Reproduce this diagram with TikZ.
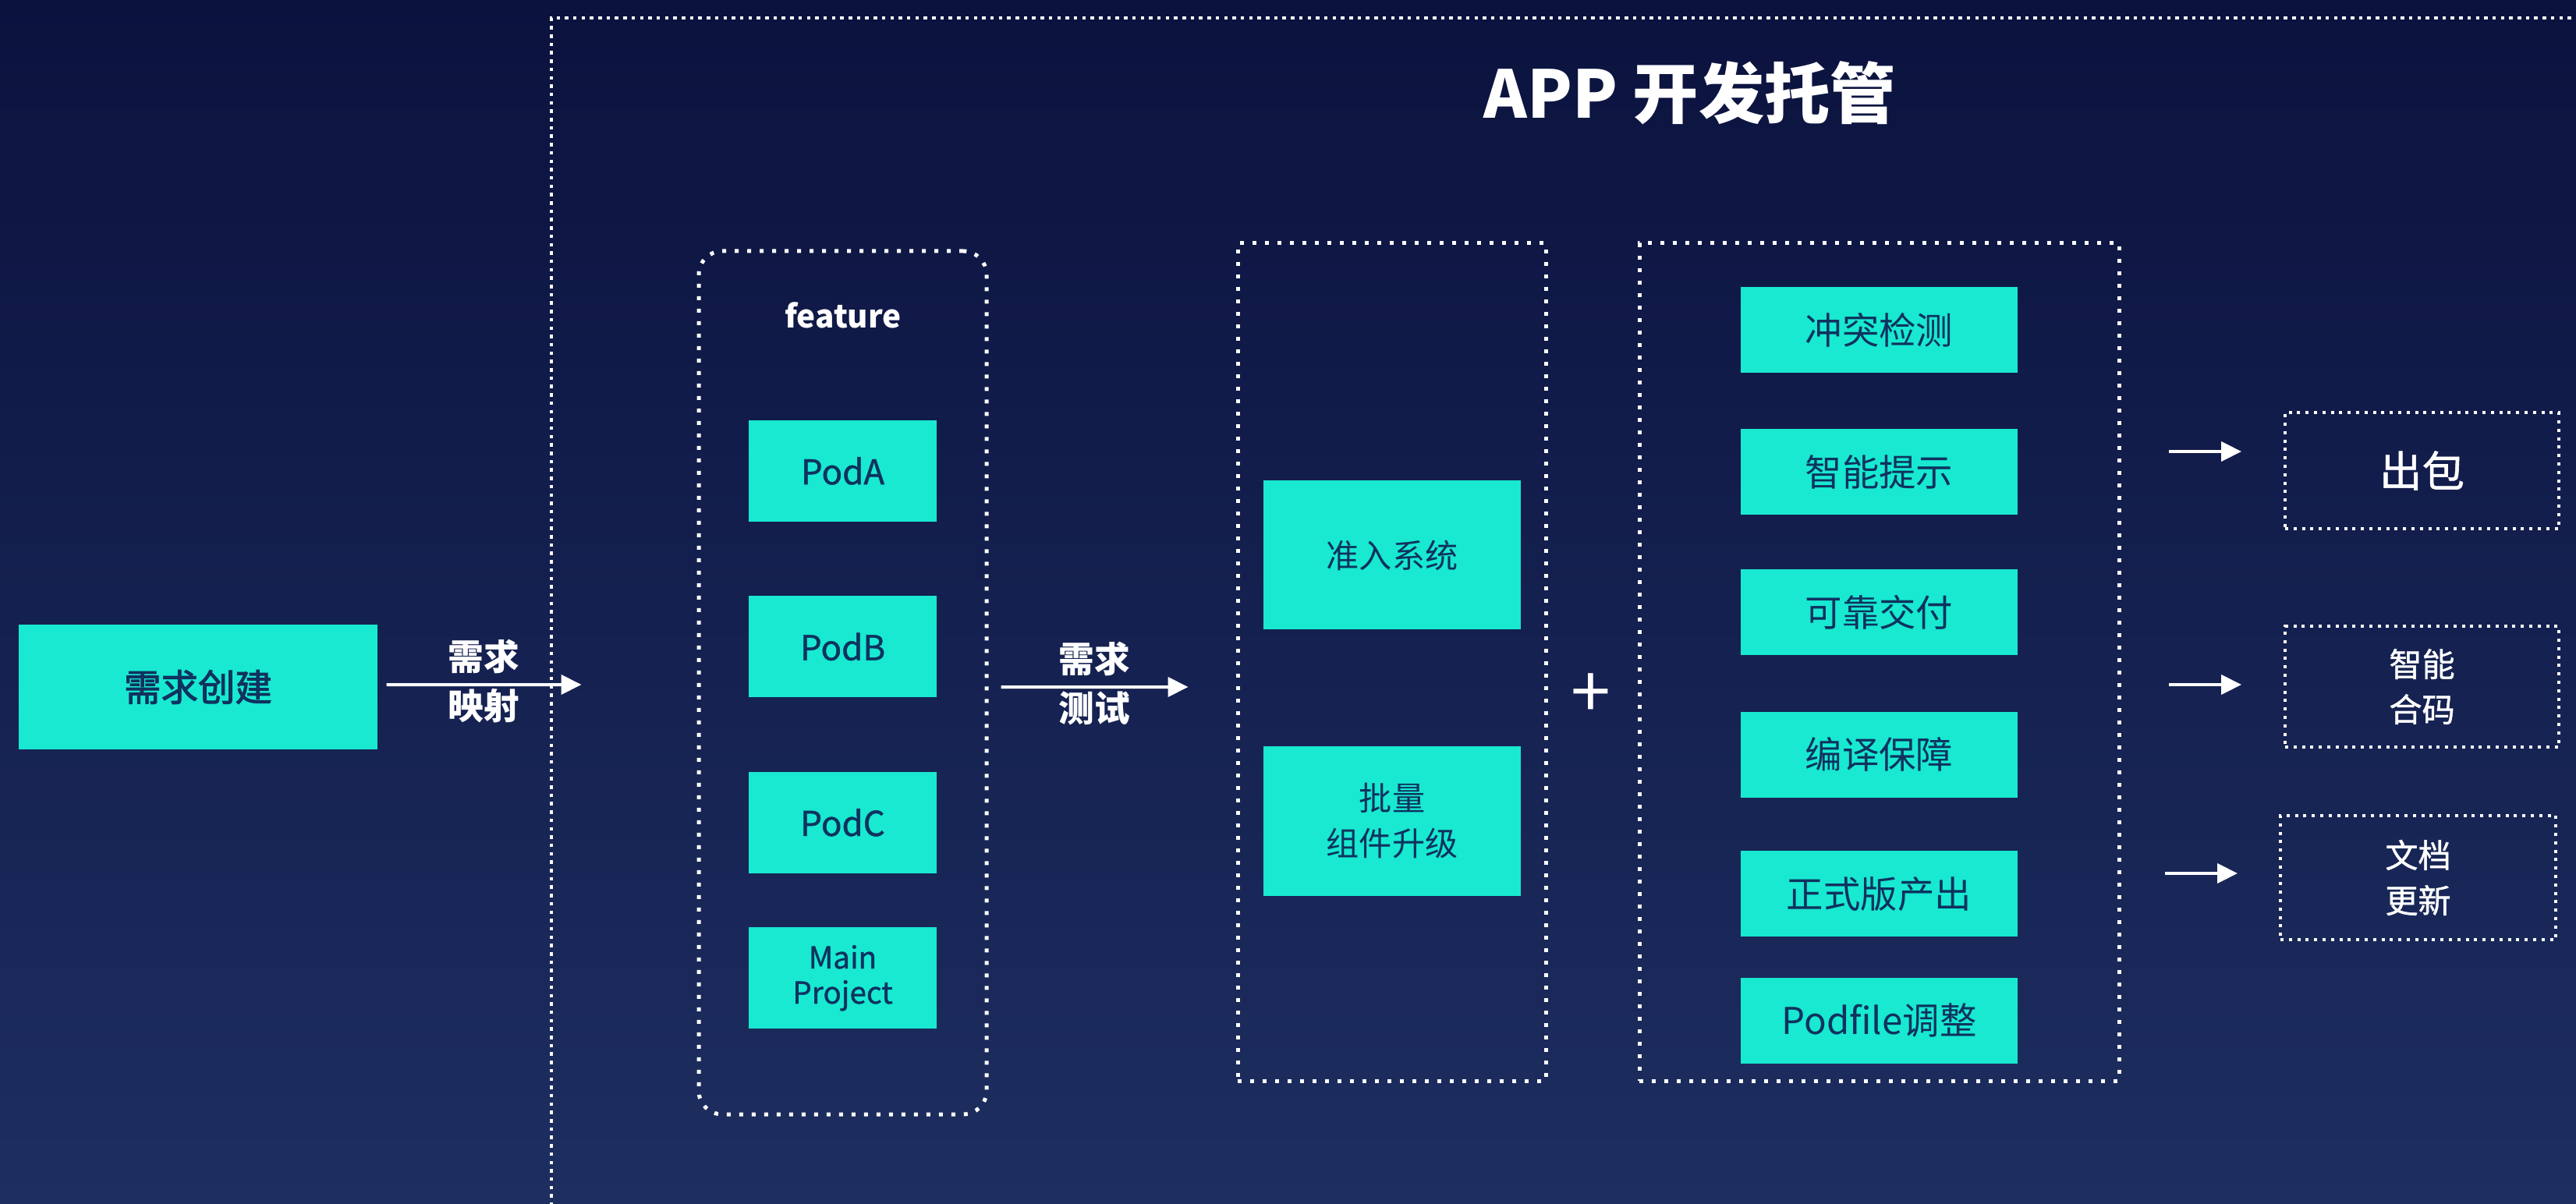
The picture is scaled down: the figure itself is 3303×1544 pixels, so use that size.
\documentclass[tikz,border=0pt]{standalone}
\usepackage{fontspec}
\setmainfont{Noto Sans CJK SC}
\newfontfamily\medfont{Noto Sans CJK SC}[FakeBold=1]
\newfontfamily\semifont{Noto Sans CJK SC}[FakeBold=2.2]
\usepackage{tikz}
\usetikzlibrary{arrows.meta,positioning,calc}
\definecolor{bgtop}{RGB}{11,18,62}
\definecolor{bgbot}{RGB}{29,46,96}
\definecolor{cyanbox}{RGB}{24,233,208}
\definecolor{navytext}{RGB}{15,50,95}
\newcommand{\titlefont}{\fontsize{24}{28}\selectfont\bfseries}
\newcommand{\reqfont}{\semifont\fontsize{13.5}{16}\selectfont}
\newcommand{\labfont}{\fontsize{13}{16}\selectfont\bfseries}
\newcommand{\podfont}{\medfont\fontsize{12.5}{14}\selectfont}
\newcommand{\gatefont}{\fontsize{12}{16.5}\selectfont}
\newcommand{\checkfont}{\fontsize{13.5}{16}\selectfont}
\newcommand{\outfont}{\medfont\fontsize{12}{16.5}\selectfont}
\tikzstyle{tealbox}=[rectangle, fill=cyanbox, text=navytext, inner sep=0pt, align=center]
\tikzstyle{podbox}=[tealbox, minimum width=24.1mm, minimum height=13mm, font=\podfont]
\tikzstyle{checkbox}=[tealbox, minimum width=35.5mm, minimum height=11mm, font=\checkfont]
\tikzstyle{dotframe}=[draw=white, line width=0.5mm, dash pattern=on 0.5mm off 1.1mm]
\tikzstyle{dotout}=[draw=white, line width=0.4mm, dash pattern=on 0.4mm off 0.68mm,
  text=white, align=center, font=\outfont]
\tikzstyle{arr}=[white, line width=0.4mm, -{Triangle[length=2.6mm,width=2.5mm]}]
\tikzstyle{arrlab}=[text=white, font=\labfont]

\begin{document}
\begin{tikzpicture}[x=0.1mm, y=-0.1mm]
  \useasboundingbox (0,0) rectangle (3303,1544);
  \fill[top color=bgtop, bottom color=bgbot] (0,0) rectangle (3303,1544);
  % APP frame, open to the right and bottom
  \draw[white, line width=0.45mm, dash pattern=on 0.45mm off 0.62mm] (707,1600) |- (3400,23);
  \node[text=white, font=\titlefont] (title) at (2167,119) {APP 开发托管};
  % demand
  \node[tealbox, minimum width=46mm, minimum height=16mm, font=\reqfont]
    (req) at (254,881) {需求创建};
  % feature
  \node[dotframe, rounded corners=3mm, minimum width=36.9mm, minimum height=110.7mm]
    (feature) at (1080.5,875.5) {};
  \node[text=white, font=\fontsize{11.5}{14}\selectfont\bfseries] (featlabel) at (1081,404) {feature};
  \node[podbox] (podA) at (1080.5,604) {PodA};
  \node[podbox, below=9.4mm of podA] (podB) {PodB};
  \node[podbox, below=9.4mm of podB] (podC) {PodC};
  \node[podbox, below=6.8mm of podC, font=\medfont\fontsize{11}{12.8}\selectfont]
    (mainproj) {Main\\Project};
  % gate
  \node[dotframe, minimum width=39.5mm, minimum height=107.4mm] (gate) at (1784.5,849) {};
  \node[tealbox, minimum width=33mm, minimum height=19.1mm, font=\gatefont]
    (admit) at (1785,712) {准入系统};
  \node[tealbox, minimum width=33mm, minimum height=19.2mm, font=\gatefont, below=14.8mm of admit]
    (upgrade) {批量\\组件升级};
  \node[text=white, font=\fontsize{26}{28}\selectfont] (plus) at (2040,892) {+};
  % checks
  \node[dotframe, minimum width=61.5mm, minimum height=107.4mm] (checks) at (2409.5,849) {};
  \node[checkbox] (conflict) at (2409.5,423.5) {冲突检测};
  \node[checkbox, below=7.0mm of conflict] (hint) {智能提示};
  \node[checkbox, below=6.9mm of hint] (deliver) {可靠交付};
  \node[checkbox, below=7.1mm of deliver] (build) {编译保障};
  \node[checkbox, below=6.7mm of build] (release) {正式版产出};
  \node[checkbox, below=5.1mm of release] (podfile) {Podfile调整};
  % outputs
  \node[dotout, minimum width=35.1mm, minimum height=14.9mm,
    font=\medfont\fontsize{15.5}{18}\selectfont] (pack) at (3105.5,603.5) {出包};
  \node[dotout, minimum width=35.1mm, minimum height=15.5mm] (merge) at (3105.5,880.5) {智能\\合码};
  \node[dotout, minimum width=35.3mm, minimum height=15.9mm] (docs) at (3100.5,1125.5) {文档\\更新};
  % arrows
  \draw[arr] ([xshift=1.1mm,yshift=0.3mm]req.east) --
    node[arrlab, above]{需求} node[arrlab, below, inner sep=1pt]{映射}
    ([xshift=-14.8mm,yshift=-0.25mm]feature.west);
  \draw[arr] ([xshift=1.6mm,yshift=-0.55mm]feature.east) --
    node[arrlab, above]{需求} node[arrlab, below, inner sep=1pt]{测试}
    ([xshift=-6.1mm,yshift=-3.2mm]gate.west);
  \draw[arr] ([xshift=-14.7mm,yshift=2.45mm]pack.west) -- ([xshift=-5.4mm,yshift=2.45mm]pack.west);
  \draw[arr] ([xshift=-14.7mm,yshift=0.25mm]merge.west) -- ([xshift=-5.4mm,yshift=0.25mm]merge.west);
  \draw[arr] ([xshift=-14.6mm,yshift=0.55mm]docs.west) -- ([xshift=-5.3mm,yshift=0.55mm]docs.west);
\end{tikzpicture}
\end{document}
